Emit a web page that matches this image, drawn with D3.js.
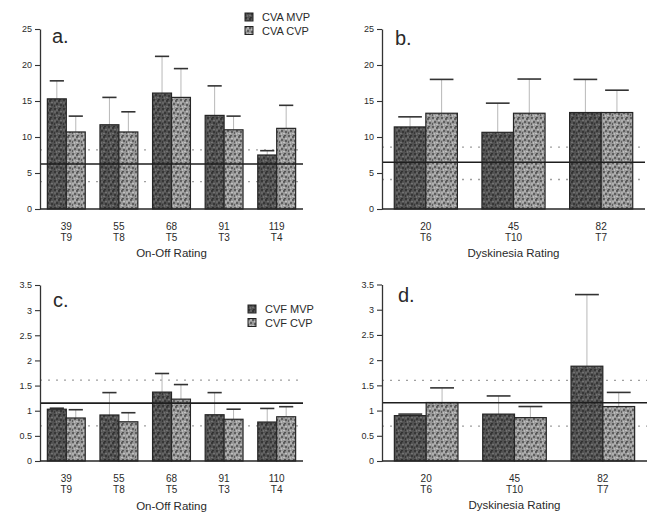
<!DOCTYPE html>
<html>
<head>
<meta charset="utf-8">
<script src="https://cdn.jsdelivr.net/npm/d3@7/dist/d3.min.js"></script>
<style>
  body { margin: 0; background: #fff; }
  svg { display: block; }
  text { font-family: "Liberation Sans", Arial, Helvetica, sans-serif; fill: #2a2a2a; }
</style>
</head>
<body>
<svg id="chart" width="647" height="512"></svg>
<script>
// Category labels (patient count / test code)
const onOffNumsA = ["39", "55", "68", "91", "119"];
const onOffNumsC = ["39", "55", "68", "91", "110"];
const onOffCodes = ["T9", "T8", "T5", "T3", "T4"];
const dyskNums = ["20", "45", "82"];
const dyskCodes = ["T6", "T10", "T7"];

// Y-axis ticks
const cvaTicks = [0, 5, 10, 15, 20, 25];
const cvfTicks = [0, 0.5, 1, 1.5, 2, 2.5, 3, 3.5];

// a. CVA, On-Off rating
const cvaOnOffMvp = [15.3, 11.7, 16.1, 13.0, 7.5];
const cvaOnOffMvpErr = [2.5, 3.8, 5.1, 4.1, 0.6];
const cvaOnOffCvp = [10.7, 10.7, 15.5, 11.0, 11.2];
const cvaOnOffCvpErr = [2.2, 2.8, 4.0, 1.9, 3.2];
const cvaOnOffRefs = [6.25, 8.2, 3.8]; // mean, upper, lower

// b. CVA, Dyskinesia rating
const cvaDyskMvp = [11.4, 10.65, 13.4];
const cvaDyskMvpErr = [1.4, 4.05, 4.6];
const cvaDyskCvp = [13.3, 13.3, 13.4];
const cvaDyskCvpErr = [4.7, 4.75, 3.1];
const cvaDyskRefs = [6.5, 8.6, 4.1];

// c. CVF, On-Off rating
const cvfOnOffMvp = [1.03, 0.915, 1.37, 0.92, 0.775];
const cvfOnOffMvpErr = [0.02, 0.445, 0.37, 0.44, 0.27];
const cvfOnOffCvp = [0.855, 0.78, 1.23, 0.83, 0.88];
const cvfOnOffCvpErr = [0.165, 0.18, 0.29, 0.2, 0.2];
const cvfOnOffRefs = [1.15, 1.61, 0.70];

// d. CVF, Dyskinesia rating
const cvfDyskMvp = [0.90, 0.93, 1.88];
const cvfDyskMvpErr = [0.03, 0.36, 1.42];
const cvfDyskCvp = [1.16, 0.86, 1.08];
const cvfDyskCvpErr = [0.29, 0.22, 0.28];
const cvfDyskRefs = [1.155, 1.60, 0.69];

const svg = d3.select("#chart");

// Stippled fills for the two series
const defs = svg.append("defs");
function stipple(id, base, dark, light) {
  const p = defs.append("pattern")
    .attr("id", id).attr("patternUnits", "userSpaceOnUse")
    .attr("width", 9).attr("height", 9);
  p.append("rect").attr("width", 9).attr("height", 9).attr("fill", base);
  const darkDots = [[1, 1], [5, 2], [3, 5], [7, 6], [0, 7], [6, 0.5]];
  const lightDots = [[3, 2], [7, 3.5], [1, 4], [5, 7.5], [2.5, 8]];
  darkDots.forEach(([x, y]) => p.append("circle").attr("cx", x).attr("cy", y).attr("r", 0.9).attr("fill", dark));
  lightDots.forEach(([x, y]) => p.append("circle").attr("cx", x).attr("cy", y).attr("r", 0.8).attr("fill", light));
}
stipple("fillMvp", "#525252", "#2a2a2a", "#7e7e7e");
stipple("fillCvp", "#979797", "#444444", "#cfcfcf");

function drawPanel(cfg) {
  const g = svg.append("g");
  const cats = cfg.nums.map((n, i) => i);
  const x = d3.scaleBand().domain(cats).range([cfg.x0, cfg.x1])
    .paddingInner(0.28).paddingOuter(0.14);
  const sub = d3.scaleBand().domain(["mvp", "cvp"]).range([0, x.bandwidth()]);
  const y = d3.scaleLinear().domain([0, cfg.max]).range([cfg.yBot, cfg.yTop]);

  // dotted reference band (behind the bars)
  cfg.refs.slice(1).forEach(v => {
    g.append("line")
      .attr("x1", cfg.x0).attr("x2", cfg.x1)
      .attr("y1", y(v)).attr("y2", y(v))
      .attr("stroke", "#a0a0a0").attr("stroke-width", 1.3)
      .attr("stroke-dasharray", "2,6");
  });

  const series = [
    { key: "mvp", vals: cfg.mvp, errs: cfg.mvpErr, fill: "url(#fillMvp)" },
    { key: "cvp", vals: cfg.cvp, errs: cfg.cvpErr, fill: "url(#fillCvp)" }
  ];

  series.forEach(s => {
    const bw = sub.bandwidth();
    // error bar stems
    g.selectAll(null).data(cats).join("line")
      .attr("x1", i => x(i) + sub(s.key) + bw / 2)
      .attr("x2", i => x(i) + sub(s.key) + bw / 2)
      .attr("y1", i => y(s.vals[i]))
      .attr("y2", i => y(s.vals[i] + s.errs[i]))
      .attr("stroke", "#b8b8b8").attr("stroke-width", 1);
    // caps
    g.selectAll(null).data(cats).join("line")
      .attr("x1", i => x(i) + sub(s.key) + bw * 0.125)
      .attr("x2", i => x(i) + sub(s.key) + bw * 0.875)
      .attr("y1", i => y(s.vals[i] + s.errs[i]))
      .attr("y2", i => y(s.vals[i] + s.errs[i]))
      .attr("stroke", "#333").attr("stroke-width", 1.6);
    // bars
    g.selectAll(null).data(cats).join("rect")
      .attr("x", i => x(i) + sub(s.key))
      .attr("width", bw)
      .attr("y", i => y(s.vals[i]))
      .attr("height", i => y(0) - y(s.vals[i]))
      .attr("fill", s.fill)
      .attr("stroke", "#262626").attr("stroke-width", 1.2);
  });

  // mean reference line (over the bars)
  g.append("line")
    .attr("x1", cfg.x0).attr("x2", cfg.x1)
    .attr("y1", y(cfg.refs[0])).attr("y2", y(cfg.refs[0]))
    .attr("stroke", "#1e1e1e").attr("stroke-width", 1.6);

  // y axis
  const ya = g.append("g").attr("transform", `translate(${cfg.x0},0)`)
    .call(d3.axisLeft(y).tickValues(cfg.ticks).tickFormat(d3.format("")).tickSize(5).tickSizeOuter(0).tickPadding(3));
  ya.select(".domain").attr("stroke", "#333").attr("stroke-width", 1.3);
  ya.selectAll(".tick line").attr("stroke", "#333").attr("stroke-width", 1.1);
  ya.selectAll(".tick text").style("font-size", "9px").attr("fill", "#333");

  // x baseline
  g.append("line")
    .attr("x1", cfg.x0).attr("x2", cfg.x1)
    .attr("y1", y(0)).attr("y2", y(0))
    .attr("stroke", "#262626").attr("stroke-width", 1.5);

  // category labels
  g.selectAll(null).data(cats).join("text")
    .attr("x", i => x(i) + x.bandwidth() / 2).attr("y", y(0) + 21)
    .attr("text-anchor", "middle").style("font-size", "10px")
    .text(i => cfg.nums[i]);
  g.selectAll(null).data(cats).join("text")
    .attr("x", i => x(i) + x.bandwidth() / 2).attr("y", y(0) + 32)
    .attr("text-anchor", "middle").style("font-size", "10px")
    .text(i => cfg.codes[i]);

  // axis title
  g.append("text")
    .attr("x", (cfg.x0 + cfg.x1) / 2).attr("y", cfg.titleY)
    .attr("text-anchor", "middle").style("font-size", "11.5px")
    .text(cfg.title);

  // panel letter
  g.append("text")
    .attr("x", cfg.letterX).attr("y", cfg.letterY)
    .style("font-size", "20px").attr("fill", "#3a3a3a")
    .text(cfg.letter);

  // legend
  if (cfg.legend) {
    const lg = g.append("g").attr("transform", `translate(${cfg.legend.x},${cfg.legend.y})`);
    cfg.legend.items.forEach((name, k) => {
      lg.append("rect").attr("x", 0).attr("y", k * 13.5 - 4)
        .attr("width", 8).attr("height", 8)
        .attr("fill", k === 0 ? "url(#fillMvp)" : "url(#fillCvp)")
        .attr("stroke", "#222").attr("stroke-width", 1);
      lg.append("text").attr("x", 17).attr("y", k * 13.5 + 4)
        .style("font-size", "11px").text(name);
    });
  }
}

drawPanel({
  x0: 40, x1: 303, yTop: 29, yBot: 209, max: 25, ticks: cvaTicks,
  nums: onOffNumsA, codes: onOffCodes,
  mvp: cvaOnOffMvp, mvpErr: cvaOnOffMvpErr, cvp: cvaOnOffCvp, cvpErr: cvaOnOffCvpErr,
  refs: cvaOnOffRefs, letter: "a.", letterX: 52, letterY: 43,
  title: "On-Off Rating", titleY: 257,
  legend: { x: 245, y: 17, items: ["CVA MVP", "CVA CVP"] }
});

drawPanel({
  x0: 382, x1: 645, yTop: 29, yBot: 209, max: 25, ticks: cvaTicks,
  nums: dyskNums, codes: dyskCodes,
  mvp: cvaDyskMvp, mvpErr: cvaDyskMvpErr, cvp: cvaDyskCvp, cvpErr: cvaDyskCvpErr,
  refs: cvaDyskRefs, letter: "b.", letterX: 395, letterY: 45,
  title: "Dyskinesia Rating", titleY: 257
});

drawPanel({
  x0: 40, x1: 303, yTop: 285, yBot: 461, max: 3.5, ticks: cvfTicks,
  nums: onOffNumsC, codes: onOffCodes,
  mvp: cvfOnOffMvp, mvpErr: cvfOnOffMvpErr, cvp: cvfOnOffCvp, cvpErr: cvfOnOffCvpErr,
  refs: cvfOnOffRefs, letter: "c.", letterX: 53, letterY: 307,
  title: "On-Off Rating", titleY: 510,
  legend: { x: 248, y: 309, items: ["CVF MVP", "CVF CVP"] }
});

drawPanel({
  x0: 382, x1: 647, yTop: 284.5, yBot: 461, max: 3.5, ticks: cvfTicks,
  nums: dyskNums, codes: dyskCodes,
  mvp: cvfDyskMvp, mvpErr: cvfDyskMvpErr, cvp: cvfDyskCvp, cvpErr: cvfDyskCvpErr,
  refs: cvfDyskRefs, letter: "d.", letterX: 398, letterY: 302,
  title: "Dyskinesia Rating", titleY: 509
});
</script>
</body>
</html>
